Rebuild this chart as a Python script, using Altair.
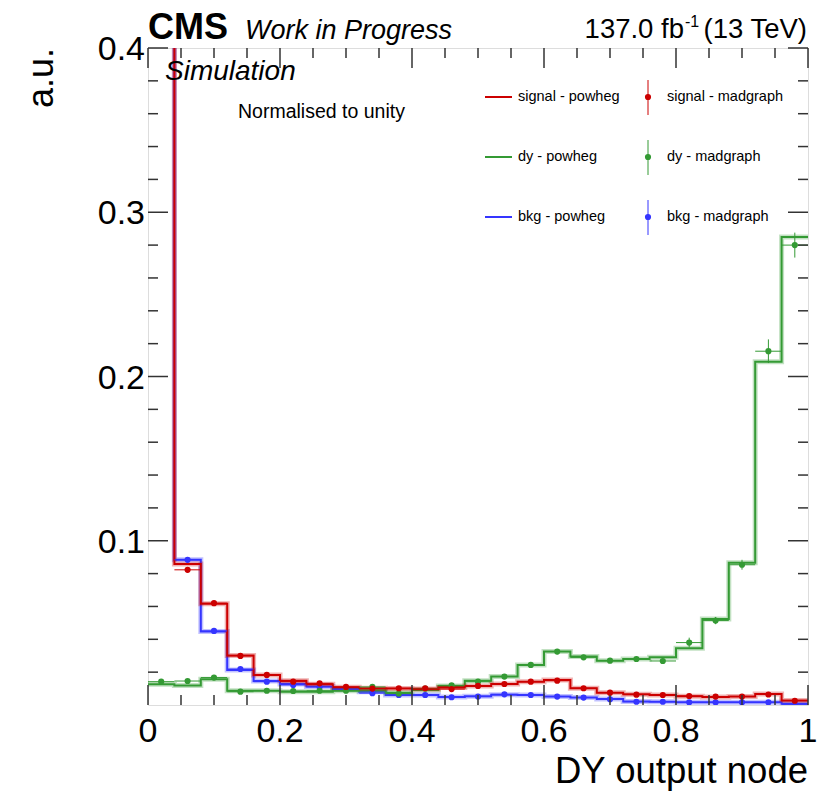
import altair as alt
import pandas as pd

# ---------------- data ----------------
bin_low = [0.00, 0.04, 0.08, 0.12, 0.16, 0.20, 0.24, 0.28, 0.32, 0.36, 0.40, 0.44, 0.48,
           0.52, 0.56, 0.60, 0.64, 0.68, 0.72, 0.76, 0.80, 0.84, 0.88, 0.92, 0.96]
bin_width = 0.04

signal_powheg = [0.62, 0.0858, 0.0616, 0.0301, 0.0183, 0.0148, 0.0126, 0.0108, 0.0102, 0.0100,
                 0.0098, 0.0106, 0.0116, 0.0128, 0.0142, 0.0152, 0.0102, 0.0075, 0.0065, 0.0061,
                 0.0053, 0.0049, 0.0051, 0.0067, 0.0028]
signal_madgraph = [0.63, 0.0823, 0.0620, 0.0299, 0.0183, 0.0142, 0.0132, 0.0110, 0.0100, 0.0102,
                   0.0102, 0.0097, 0.0116, 0.0128, 0.0142, 0.0148, 0.0102, 0.0075, 0.0063, 0.0061,
                   0.0055, 0.0051, 0.0051, 0.0064, 0.0026]
signal_err = [0.01, 0.0012, 0.0010, 0.0007, 0.0006, 0.0005, 0.0005, 0.0005, 0.0005, 0.0005,
              0.0005, 0.0005, 0.0005, 0.0005, 0.0005, 0.0005, 0.0005, 0.0004, 0.0004, 0.0004,
              0.0004, 0.0004, 0.0004, 0.0004, 0.0003]

dy_powheg = [0.0126, 0.0118, 0.0157, 0.0087, 0.0087, 0.0081, 0.0080, 0.0087, 0.0090, 0.0075,
             0.0091, 0.0116, 0.0148, 0.0173, 0.0244, 0.0325, 0.0295, 0.0270, 0.0280, 0.0290,
             0.0346, 0.0523, 0.0866, 0.2090, 0.2850]
dy_madgraph = [0.0142, 0.0146, 0.0167, 0.0081, 0.0087, 0.0085, 0.0087, 0.0087, 0.0110, 0.0070,
               0.0100, 0.0120, 0.0142, 0.0173, 0.0244, 0.0325, 0.0290, 0.0270, 0.0280, 0.0268,
               0.0380, 0.0514, 0.0854, 0.2154, 0.2800]
dy_err = [0.0010, 0.0010, 0.0010, 0.0008, 0.0008, 0.0008, 0.0008, 0.0008, 0.0009, 0.0008,
          0.0009, 0.0010, 0.0011, 0.0012, 0.0014, 0.0016, 0.0015, 0.0015, 0.0015, 0.0016,
          0.0030, 0.0022, 0.0030, 0.0072, 0.0076]

bkg_powheg = [0.60, 0.0884, 0.0447, 0.0213, 0.0146, 0.0128, 0.0112, 0.0098, 0.0080, 0.0061,
              0.0061, 0.0049, 0.0053, 0.0063, 0.0061, 0.0052, 0.0045, 0.0036, 0.0022, 0.0020,
              0.0017, 0.0016, 0.0016, 0.0016, 0.0007]
bkg_madgraph = [0.61, 0.0884, 0.0451, 0.0219, 0.0142, 0.0122, 0.0110, 0.0096, 0.0072, 0.0061,
                0.0061, 0.0047, 0.0051, 0.0065, 0.0061, 0.0051, 0.0045, 0.0035, 0.0020, 0.0020,
                0.0016, 0.0016, 0.0016, 0.0016, 0.0004]
bkg_err = [0.01, 0.0012, 0.0009, 0.0006, 0.0005, 0.0005, 0.0004, 0.0004, 0.0004, 0.0004,
           0.0004, 0.0003, 0.0003, 0.0004, 0.0004, 0.0003, 0.0003, 0.0003, 0.0002, 0.0002,
           0.0002, 0.0002, 0.0002, 0.0002, 0.0002]

series_names = ["signal", "dy", "bkg"]
legend_powheg = ["signal - powheg", "dy - powheg", "bkg - powheg"]
legend_madgraph = ["signal - madgraph", "dy - madgraph", "bkg - madgraph"]

x_major = [0.0, 0.2, 0.4, 0.6, 0.8, 1.0]
x_tick_labels = ["0", "0.2", "0.4", "0.6", "0.8", "1"]
x_minor = [0.05, 0.1, 0.15, 0.25, 0.3, 0.35, 0.45, 0.5, 0.55, 0.65, 0.7, 0.75, 0.85, 0.9, 0.95]
y_major = [0.1, 0.2, 0.3, 0.4]
y_tick_labels = ["0.1", "0.2", "0.3", "0.4"]
y_minor = [0.02, 0.04, 0.06, 0.08, 0.12, 0.14, 0.16, 0.18, 0.22, 0.24, 0.26, 0.28,
           0.32, 0.34, 0.36, 0.38]

# ---------------- style ----------------
colors = {"signal": "#cc0000", "dy": "#349a34", "bkg": "#3535ff"}
FONT = "Liberation Sans"
W, H = 660, 657
MAJ, MIN = 20, 10
LABEL_SIZE = 34

powheg = {"signal": signal_powheg, "dy": dy_powheg, "bkg": bkg_powheg}
madgraph = {"signal": signal_madgraph, "dy": dy_madgraph, "bkg": bkg_madgraph}
errs = {"signal": signal_err, "dy": dy_err, "bkg": bkg_err}

x_scale = alt.Scale(domain=[0, 1], nice=False, zero=False)
y_scale = alt.Scale(domain=[0, 0.4], nice=False, zero=False)

dummy = pd.DataFrame({"d": [0]})
layers = []

# Step histograms (powheg)
draw_order = ["bkg", "dy", "signal"]
for name in draw_order:
    vals = powheg[name]
    xs = list(bin_low) + [1.0]
    ys = list(vals) + [vals[-1]]
    df = pd.DataFrame({"x": xs, "y": ys})
    enc = dict(x=alt.X("x:Q", scale=x_scale, axis=None), y=alt.Y("y:Q", scale=y_scale, axis=None))
    halo = alt.Chart(df).mark_line(interpolate="step-after", clip=True, color=colors[name],
                                   strokeWidth=5, opacity=0.3).encode(**enc)
    line = alt.Chart(df).mark_line(interpolate="step-after", clip=True, color=colors[name],
                                   strokeWidth=2).encode(**enc)
    layers += [halo, line]

# Madgraph points with error bars
for name in draw_order:
    vals = madgraph[name]
    e = errs[name]
    df = pd.DataFrame({
        "lo": bin_low,
        "hi": [b + bin_width for b in bin_low],
        "c": [b + bin_width / 2 for b in bin_low],
        "v": vals,
        "vlo": [v - s for v, s in zip(vals, e)],
        "vhi": [v + s for v, s in zip(vals, e)],
    })
    hbar = alt.Chart(df).mark_rule(clip=True, color=colors[name], strokeWidth=1).encode(
        x=alt.X("lo:Q", scale=x_scale, axis=None), x2="hi:Q",
        y=alt.Y("v:Q", scale=y_scale, axis=None))
    vbar = alt.Chart(df).mark_rule(clip=True, color=colors[name], strokeWidth=1).encode(
        x=alt.X("c:Q", scale=x_scale, axis=None),
        y=alt.Y("vlo:Q", scale=y_scale, axis=None), y2="vhi:Q")
    pts = alt.Chart(df).mark_circle(clip=True, color=colors[name], size=38, opacity=1).encode(
        x=alt.X("c:Q", scale=x_scale, axis=None), y=alt.Y("v:Q", scale=y_scale, axis=None))
    layers += [hbar, vbar, pts]

# Inner ticks on all four sides
tick_col = "#333333"
def xticks(vals, length):
    df = pd.DataFrame({"t": vals})
    bot = alt.Chart(df).mark_rule(color=tick_col, strokeWidth=1.5).encode(
        x=alt.X("t:Q", scale=x_scale, axis=None), y=alt.value(H), y2=alt.value(H - length))
    top = alt.Chart(df).mark_rule(color=tick_col, strokeWidth=1.5).encode(
        x=alt.X("t:Q", scale=x_scale, axis=None), y=alt.value(0), y2=alt.value(length))
    return [bot, top]

def yticks(vals, length):
    df = pd.DataFrame({"t": vals})
    left = alt.Chart(df).mark_rule(color=tick_col, strokeWidth=1.5).encode(
        y=alt.Y("t:Q", scale=y_scale, axis=None), x=alt.value(0), x2=alt.value(length))
    right = alt.Chart(df).mark_rule(color=tick_col, strokeWidth=1.5).encode(
        y=alt.Y("t:Q", scale=y_scale, axis=None), x=alt.value(W), x2=alt.value(W - length))
    return [left, right]

layers += xticks(x_major, MAJ) + xticks(x_minor, MIN)
layers += yticks(y_major, MAJ) + yticks(y_minor, MIN)

# Tick labels (through the scales)
xl_df = pd.DataFrame({"t": x_major, "lab": x_tick_labels})
layers.append(alt.Chart(xl_df).mark_text(font=FONT, fontSize=LABEL_SIZE, align="center",
                                         baseline="alphabetic", color="black").encode(
    x=alt.X("t:Q", scale=x_scale, axis=None), y=alt.value(H + 37), text="lab:N"))
yl_df = pd.DataFrame({"t": y_major, "lab": y_tick_labels})
layers.append(alt.Chart(yl_df).mark_text(font=FONT, fontSize=LABEL_SIZE, align="right",
                                         baseline="alphabetic", dy=12, color="black").encode(
    y=alt.Y("t:Q", scale=y_scale, axis=None), x=alt.value(-3), text="lab:N"))

# Text annotations
def txt(s, x, y, size, align="left", baseline="alphabetic", style="normal", weight="normal",
        angle=0):
    return alt.Chart(dummy).mark_text(
        text=s, font=FONT, fontSize=size, align=align, baseline=baseline,
        fontStyle=style, fontWeight=weight, angle=angle, color="black"
    ).encode(x=alt.value(x), y=alt.value(y))

layers.append(txt("CMS", 0, -9, 36, weight="bold"))
layers.append(txt("Work in Progress", 97, -9, 27, style="italic"))
layers.append(txt("(13 TeV)", W - 1, -10, 27.5, align="right"))
layers.append(txt("-1", 537, -21, 16))
layers.append(txt("137.0 fb", 536, -10, 27.5, align="right"))
layers.append(txt("Simulation", 17, 32, 28, style="italic"))
layers.append(txt("Normalised to unity", 90, 70, 19.5))
layers.append(txt("DY output node", W, 735, 36.5, align="right"))
layers.append(txt("a.u.", -95, 0, 36, align="right", angle=270))

# Legend
row_y = [49, 109, 169]
for i, name in enumerate(series_names):
    yy = row_y[i]
    c = colors[name]
    layers.append(alt.Chart(dummy).mark_rule(color=c, strokeWidth=2).encode(
        x=alt.value(337), x2=alt.value(364), y=alt.value(yy)))
    layers.append(txt(legend_powheg[i], 370, yy, 14.5, baseline="middle"))
    layers.append(alt.Chart(dummy).mark_rule(color=c, strokeWidth=1).encode(
        x=alt.value(500), y=alt.value(yy - 17), y2=alt.value(yy + 18)))
    layers.append(alt.Chart(dummy).mark_circle(color=c, size=38, opacity=1).encode(
        x=alt.value(500), y=alt.value(yy)))
    layers.append(txt(legend_madgraph[i], 519, yy, 14.5, baseline="middle"))

chart = alt.layer(*layers).properties(
    width=W, height=H,
    autosize=alt.AutoSizeParams(type="none"),
    padding={"left": 148, "top": 48, "right": 32, "bottom": 86},
).configure_view(stroke="#222222", strokeWidth=2).configure(background="white")

chart.save("out.html", embed_options={"renderer": "svg", "actions": False})
